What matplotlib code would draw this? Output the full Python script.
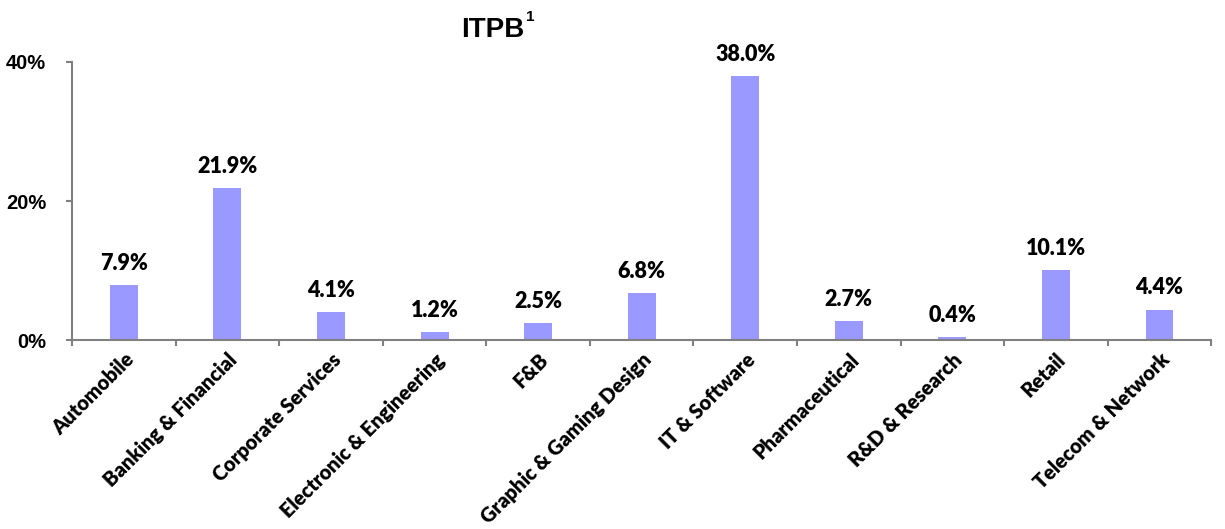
import matplotlib
matplotlib.use("Agg")
import matplotlib.pyplot as plt
import numpy as np

# données
categories = ["Automobile", "Banking & Financial", "Corporate Services",
              "Electronic & Engineering", "F&B", "Graphic & Gaming Design",
              "IT & Software", "Pharmaceutical", "R&D & Research", "Retail",
              "Telecom & Network"]
shares = [7.9, 21.9, 4.1, 1.2, 2.5, 6.8, 38.0, 2.7, 0.4, 10.1, 4.4]
y_ticks = [0, 20, 40]

bar_color = "#9999FF"
axis_color = "#808080"
label_font = ["Lato", "DejaVu Sans"]

fig = plt.figure(figsize=(12.25, 5.29), dpi=100)
ax = fig.add_axes([0.0588, 0.357, 0.930, 0.526])

x = np.arange(len(categories))
ax.bar(x, shares, width=0.27, color=bar_color, zorder=2)

# étiquettes des valeurs
for xi, v in zip(x, shares):
    ax.annotate(f"{v:.1f}%", (xi, v), xytext=(0, 8), textcoords="offset points",
                ha="center", va="bottom", fontsize=15.5, fontweight="heavy",
                family=label_font)

ax.set_xlim(-0.5, len(categories) - 0.5)
ax.set_ylim(0, 40)
ax.set_yticks(y_ticks, labels=[f"{t}%" for t in y_ticks],
              fontsize=14.5, fontweight="bold", family="Liberation Sans")

# ticks de catégories entre les barres
ax.set_xticks(np.arange(len(categories) + 1) - 0.5, labels=[])
ax.set_xticks(x, labels=categories, minor=True, rotation=45, ha="right",
              rotation_mode="anchor", fontsize=14.5, fontweight="heavy",
              family=label_font)
ax.tick_params(axis="x", which="minor", length=0, pad=7)
ax.tick_params(axis="x", which="major", length=4.5, color=axis_color, width=1.5)
ax.tick_params(axis="y", length=4.5, color=axis_color, width=1.5, pad=14)

for side in ["top", "right"]:
    ax.spines[side].set_visible(False)
for side in ["left", "bottom"]:
    ax.spines[side].set_color(axis_color)
    ax.spines[side].set_linewidth(1.5)

# titre avec exposant
fig.text(0.402, 0.93, "ITPB", ha="center", va="baseline", fontsize=20,
         fontweight="bold", family="Liberation Sans")
fig.text(0.4295, 0.96, "1", ha="left", va="baseline", fontsize=11,
         fontweight="bold", family="Liberation Sans")

fig.savefig("out.png", dpi=100)
